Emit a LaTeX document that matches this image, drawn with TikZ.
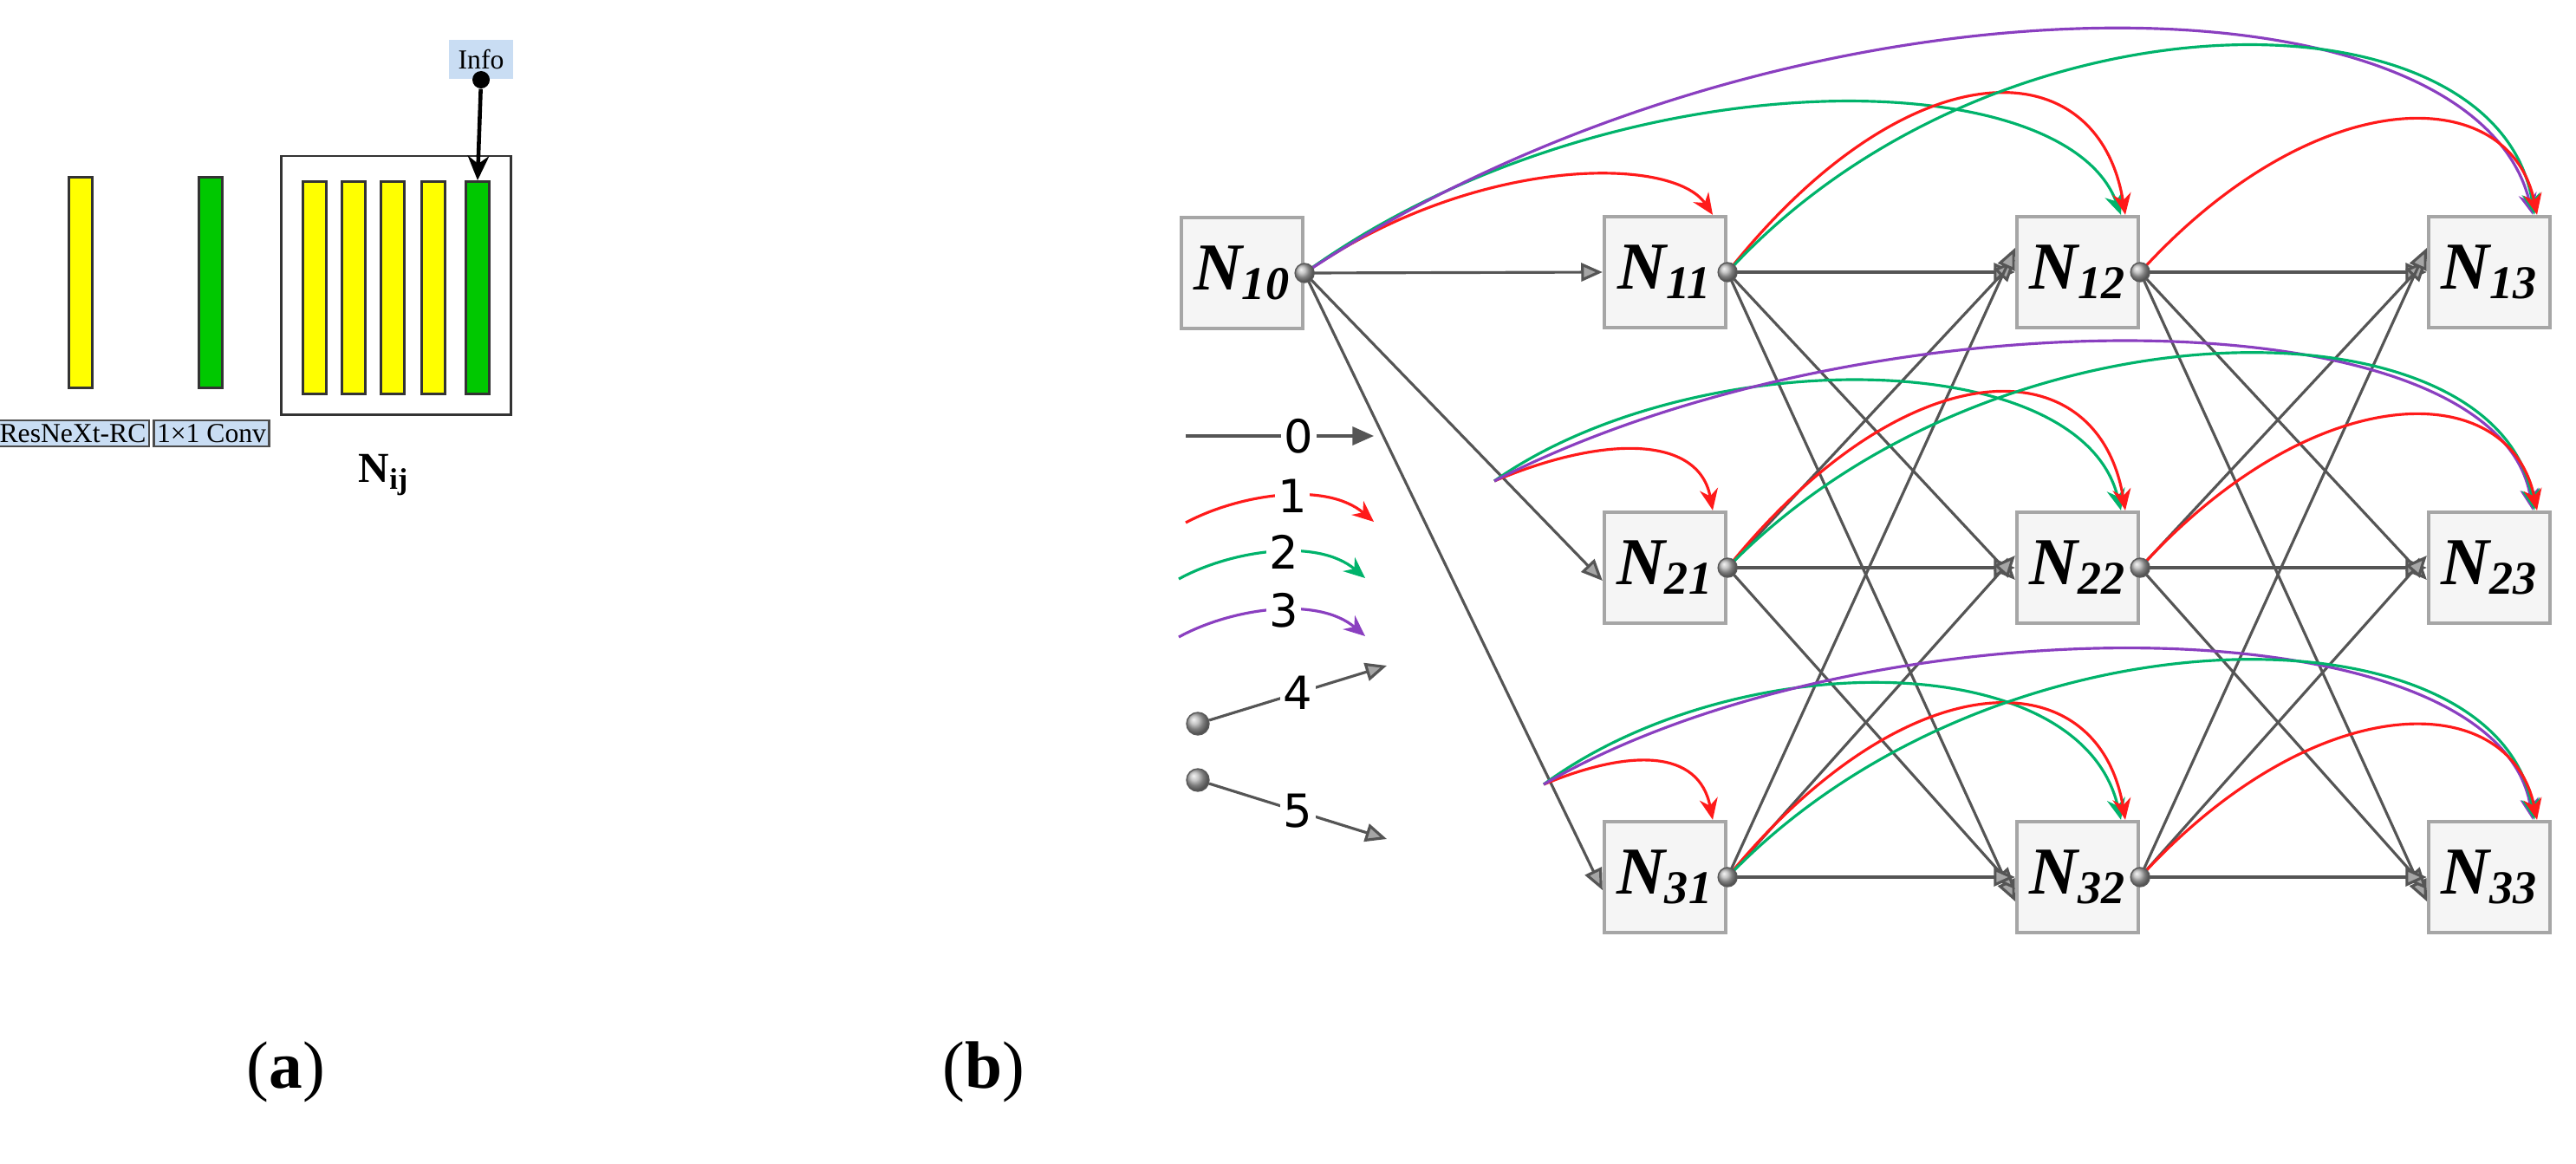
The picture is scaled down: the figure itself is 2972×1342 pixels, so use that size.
\documentclass[tikz,border=0pt]{standalone}
\usepackage{fontspec}
\setmainfont{Liberation Serif}
\newfontfamily\legfont{DejaVu Sans}
\usetikzlibrary{arrows.meta,shapes.geometric,calc}
\definecolor{cred}{HTML}{FF1A1A}
\definecolor{cgreen}{HTML}{00B36B}
\definecolor{cpurple}{HTML}{8A3FC0}
\definecolor{lblue}{HTML}{C9DDF3}
\definecolor{ygl}{HTML}{FFFF00}
\definecolor{grn}{HTML}{00C800}
\definecolor{edge}{HTML}{555555}
\begin{document}
\begin{tikzpicture}[x=0.01cm,y=-0.01cm,
  box/.style={draw=gray!70,line width=1.2pt,fill=gray!8,minimum width=1.4cm,minimum height=1.28cm,inner sep=0pt,font=\fontsize{22}{24}\selectfont\bfseries\itshape},
  dot/.style={circle,draw=gray!70!black,shading=ball,ball color=gray!60,minimum size=0.22cm,inner sep=0pt},
  ge/.style={edge,line width=0.9pt,-{Triangle[length=7pt,width=6pt,fill=gray!70]}},
  sk/.style={line width=0.9pt,-{Stealth[length=7pt,width=6pt]}},
  bar/.style={draw=black!80,line width=0.8pt},
  lab/.style={draw=black!70,fill=lblue,line width=0.6pt,font=\fontsize{9}{10}\selectfont,inner sep=1pt},
  leg/.style={fill=white,text=black,inner sep=1pt,font=\legfont\fontsize{15}{16}\selectfont}]
\useasboundingbox (0,0) rectangle (2972,1342);
% ---------- panel (a)
\node[bar,fill=ygl,minimum width=0.27cm,minimum height=2.43cm,inner sep=0pt] (ya) at (93,326) {};
\node[bar,fill=grn,minimum width=0.27cm,minimum height=2.43cm,inner sep=0pt] (ga) at (243,326) {};
\node[draw=black!80,line width=0.8pt,minimum width=2.65cm,minimum height=2.98cm,inner sep=0pt] (big) at (457,329) {};
\foreach \x/\c [count=\i] in {363/ygl,408/ygl,453/ygl,500/ygl,551/grn}
  \node[bar,fill=\c,minimum width=0.27cm,minimum height=2.45cm,inner sep=0pt] (b\i) at (\x,332) {};
\node[fill=lblue,minimum width=0.74cm,minimum height=0.45cm,inner sep=0pt,font=\fontsize{9}{10}\selectfont,anchor=north] (info) at (555,45) {Info};
\node[circle,fill=black,minimum size=0.2cm,inner sep=0pt] (idot) at (555,92) {};
\draw[line width=1.3pt,-{Stealth[length=8pt,width=7pt]}] (idot) -- (b5.north);
\node[lab,minimum width=1.52cm,minimum height=0.3cm] (l1) at (84,500) {ResNeXt-RC};
\node[lab,minimum width=1.08cm,minimum height=0.3cm] (l2) at (244,500) {1×1 Conv};
\node[font=\fontsize{14}{16}\selectfont\bfseries] (nij) at (443,548) {N\textsubscript{ij}};
\node[font=\fontsize{22}{26}\selectfont] (capa) at (330,1237) {(\textbf{a})};
\node[font=\fontsize{22}{26}\selectfont] (capb) at (1135,1237) {(\textbf{b})};
% ---------- panel (b) nodes
\node[box] (n10) at (1433,315) {N\textsubscript{10}};
\foreach \c/\x in {1/1921,2/2397,3/2872}{
  \node[box] (n1\c) at (\x,314) {N\textsubscript{1\c}};
  \node[box] (n2\c) at (\x,655) {N\textsubscript{2\c}};
  \node[box] (n3\c) at (\x,1012) {N\textsubscript{3\c}};
}
\foreach \n in {n10,n11,n21,n31,n12,n22,n32}
  \coordinate (\n d) at (\n.east);
% gray edges
\draw[ge] (n10d) -- (n11.west);
\draw[ge] (n10d) -- ($(n21.west)+(0,15)$);
\draw[ge] (n10d) -- ($(n31.west)+(0,15)$);
\foreach \a/\b in {1/2,2/3}{
  \foreach \i in {1,2,3}{
    \foreach \j in {1,2,3}{
      \pgfmathtruncatemacro{\off}{(\j-\i)*14}
      \draw[ge] (n\i\a d) -- ($(n\j\b.west)+(0,\off)$);
    }}}
\coordinate (B2) at (1724,555);
\coordinate (B3) at (1781,905);
% skip curves row 1
\draw[sk,cred] (n10d) .. controls (1700,179) and (1930,179) .. ($(n11.north)+(55,0)$);
\draw[sk,cgreen] (n10d) .. controls (1850,66) and (2380,66) .. ($(n12.north)+(50,0)$);
\draw[sk,cpurple] (n10d) .. controls (2050,-47) and (2850,-47) .. ($(n13.north)+(50,0)$);
\draw[sk,cred] (n11d) .. controls (2200,53) and (2420,53) .. ($(n12.north)+(55,0)$);
\draw[sk,cgreen] (n11d) .. controls (2300,-21) and (2880,-21) .. ($(n13.north)+(52,0)$);
\draw[sk,cred] (n12d) .. controls (2670,93) and (2895,93) .. ($(n13.north)+(55,0)$);
% row 2
\draw[sk,cred] (B2) .. controls (1850,502) and (1960,502) .. ($(n21.north)+(55,0)$);
\draw[sk,cgreen] (B2) .. controls (1950,396) and (2400,396) .. ($(n22.north)+(50,0)$);
\draw[sk,cpurple] (B2) .. controls (2150,336) and (2880,336) .. ($(n23.north)+(50,0)$);
\draw[sk,cred] (n21d) .. controls (2200,399) and (2420,399) .. ($(n22.north)+(55,0)$);
\draw[sk,cgreen] (n21d) .. controls (2300,339) and (2880,339) .. ($(n23.north)+(52,0)$);
\draw[sk,cred] (n22d) .. controls (2670,434) and (2895,434) .. ($(n23.north)+(55,0)$);
% row 3
\draw[sk,cred] (B3) .. controls (1880,864) and (1960,864) .. ($(n31.north)+(55,0)$);
\draw[sk,cgreen] (B3) .. controls (2000,744) and (2400,744) .. ($(n32.north)+(50,0)$);
\draw[sk,cpurple] (B3) .. controls (2150,691) and (2880,691) .. ($(n33.north)+(50,0)$);
\draw[sk,cred] (n31d) .. controls (2200,759) and (2420,759) .. ($(n32.north)+(55,0)$);
\draw[sk,cgreen] (n31d) .. controls (2300,692) and (2880,692) .. ($(n33.north)+(52,0)$);
\draw[sk,cred] (n32d) .. controls (2670,792) and (2895,792) .. ($(n33.north)+(55,0)$);
% dots
\foreach \n in {n10,n11,n21,n31,n12,n22,n32}
  \node[dot] (\n dd) at (\n d) {};
% ---------- legend
\coordinate (l0a) at (1368,503); \coordinate (l0b) at (1585,503);
\draw[edge,line width=0.9pt,-{Triangle[length=7pt,width=6pt,fill=edge]}] (l0a) -- node[leg,pos=0.6] (t0) {0} (l0b);
\coordinate (l1a) at (1368,603); \coordinate (l1b) at (1585,602);
\draw[sk,cred] (l1a) .. controls (1430,570) and (1530,555) .. node[leg,pos=0.55] (t1) {1} (l1b);
\coordinate (l2a) at (1360,668); \coordinate (l2b) at (1575,667);
\draw[sk,cgreen] (l2a) .. controls (1420,635) and (1520,620) .. node[leg,pos=0.55] (t2) {2} (l2b);
\coordinate (l3a) at (1360,735); \coordinate (l3b) at (1575,734);
\draw[sk,cpurple] (l3a) .. controls (1420,702) and (1520,687) .. node[leg,pos=0.55] (t3) {3} (l3b);
\node[dot,minimum size=0.26cm] (d4) at (1382,835) {};
\coordinate (l4b) at (1600,768);
\draw[ge] (d4) -- node[leg,pos=0.5] (t4) {4} (l4b);
\node[dot,minimum size=0.26cm] (d5) at (1382,900) {};
\coordinate (l5b) at (1600,968);
\draw[ge] (d5) -- node[leg,pos=0.5] (t5) {5} (l5b);
\end{tikzpicture}
\end{document}
